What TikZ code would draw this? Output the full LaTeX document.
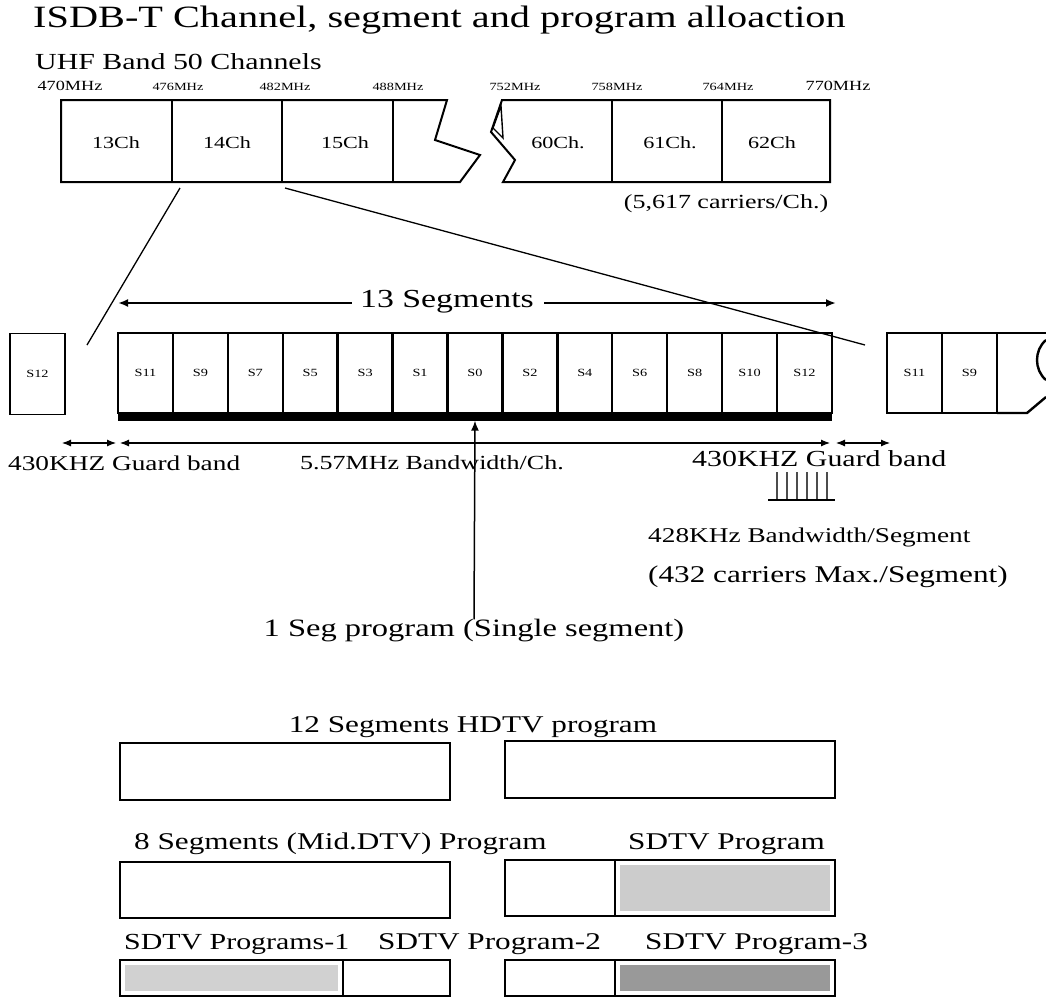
\documentclass[tikz,border=0pt]{standalone}
\usepackage{fontspec}
\setmainfont{Liberation Serif}[FakeStretch=1.3]
\usetikzlibrary{arrows.meta}
\newcommand{\fs}[1]{\fontsize{#1}{#1}\selectfont}
\begin{document}
\begin{tikzpicture}[x=1pt,y=-1pt,
  txt/.style={inner sep=0pt, anchor=west},
  ctxt/.style={inner sep=0pt},
  outl/.style={draw=black, line width=2pt, line join=miter},
  segcell/.style={draw=black, line width=2.4pt, minimum width=54.92pt, minimum height=80pt, inner sep=0pt, font=\fs{11}},
  zline/.style={line width=1.3pt},
  arr/.style={-{Latex[length=10pt,width=8pt]}, line width=1.5pt},
  dim/.style={{Latex[length=9pt,width=7pt]}-{Latex[length=9pt,width=7pt]}, line width=1.1pt},
  pbox/.style={draw=black, line width=2.5pt}
]
\useasboundingbox (0,0) rectangle (1046,998);
\fill[white] (0,0) rectangle (1046,998);

% title and band label
\node[txt, font=\fs{31}] (title) at (33,20) {ISDB-T Channel, segment and program alloaction};
\node[txt, font=\fs{23}] (uhf) at (35,62) {UHF Band 50 Channels};

% frequency labels
\node[ctxt, font=\fs{14}] (f470) at (70,86) {470MHz};
\node[ctxt, font=\fs{11}] (f476) at (178,87) {476MHz};
\node[ctxt, font=\fs{11}] (f482) at (285,87) {482MHz};
\node[ctxt, font=\fs{11}] (f488) at (398,87) {488MHz};
\node[ctxt, font=\fs{11}] (f752) at (515,87) {752MHz};
\node[ctxt, font=\fs{11}] (f758) at (617,87) {758MHz};
\node[ctxt, font=\fs{11}] (f764) at (728,87) {764MHz};
\node[ctxt, font=\fs{14}] (f770) at (838,86) {770MHz};

% channel strip, left piece
\draw[outl] (61,100) -- (447,100) -- (435,140) -- (480,155) -- (460,182) -- (61,182) -- cycle;
\draw[outl] (172,100) -- (172,182);
\draw[outl, line width=2.6pt] (282,100) -- (282,182);
\draw[outl, line width=2.6pt] (393,100) -- (393,182);
% channel strip, right piece
\draw[outl] (502,100) -- (830,100) -- (830,182) -- (503,182) -- (515,160) -- (491,132) -- cycle;
\draw[outl, line width=1.4pt] (501,106) -- (493,128) -- (503,138) -- cycle;
\draw[outl] (612,100) -- (612,182);
\draw[outl] (722,100) -- (722,182);

\node[ctxt, font=\fs{17}] (ch13) at (116,143) {13Ch};
\node[ctxt, font=\fs{17}] (ch14) at (227,143) {14Ch};
\node[ctxt, font=\fs{17}] (ch15) at (345,143) {15Ch};
\node[ctxt, font=\fs{17}] (ch60) at (558,143) {60Ch.};
\node[ctxt, font=\fs{17}] (ch61) at (670,143) {61Ch.};
\node[ctxt, font=\fs{17}] (ch62) at (772,143) {62Ch};
\node[ctxt, font=\fs{20}] (carr) at (726,204) {(5,617 carriers/Ch.)};

% zoom lines
\coordinate (z1a) at (180,188);
\coordinate (z1b) at (87,345);
\coordinate (z2a) at (285,188);
\coordinate (z2b) at (865,345);
\draw[zline] (z1a) -- (z1b);
\draw[zline] (z2a) -- (z2b);

% 13 segments arrow
\node[ctxt, font=\fs{26}] (seg13) at (447,302) {13 Segments};
\coordinate (sL) at (118,303);
\coordinate (sR) at (836,303);
\draw[arr, line width=2pt] ([xshift=-8pt,yshift=-1pt]seg13.west) -- (sL);
\draw[arr, line width=2pt] ([xshift=10pt,yshift=-1pt]seg13.east) -- (sR);

% segments
\foreach \lab [count=\i from 0] in {S11,S9,S7,S5,S3,S1,S0,S2,S4,S6,S8,S10,S12} {
  \node[segcell] (m\i) at ({118+54.92*(\i+0.5)},373) {\lab};
}
\node[fill=black, minimum width=714pt, minimum height=8pt, inner sep=0pt] (bar) at (475,416.5) {};

\node[segcell, line width=1.8pt, minimum width=55pt, minimum height=81pt] (l12) at (37.5,374) {S12};

\node[segcell, minimum width=55pt] (r11) at (914.5,373) {S11};
\node[segcell, minimum width=55pt] (r9) at (969.5,373) {S9};
\draw[outl, line width=2.4pt] (997,333) -- (1046,333);
\draw[outl, line width=2.4pt] (997,413) -- (1027,413) -- (1046,397);
\draw[outl, line width=2.4pt] (1046,340) .. controls (1034,350) and (1034,370) .. (1046,380);

% dimension line
\coordinate (g1) at (62,443);
\coordinate (g2) at (116,443);
\coordinate (g3) at (120,443);
\coordinate (g4) at (830,443);
\coordinate (g5) at (836,443);
\coordinate (g6) at (890,443);
\draw[dim] (g1) -- (g2);
\draw[dim] (g3) -- (g4);
\draw[dim] (g5) -- (g6);

\node[txt, font=\fs{21}] (gl) at (8,463) {430KHZ Guard band};
\node[txt, font=\fs{20}] (bw) at (300,463) {5.57MHz Bandwidth/Ch.};
\node[txt, font=\fs{23}] (gr) at (692,459) {430KHZ Guard band};

% carrier comb
\foreach \k in {0,...,5} { \draw[line width=1.4pt, black!70] ({777+10*\k},472) -- ({777+10*\k},500); }
\draw[line width=1.6pt] (768,500) -- (835,500);

\node[txt, font=\fs{21}] (sbw) at (648,537) {428KHz Bandwidth/Segment};
\node[txt, font=\fs{24}] (cmax) at (648,577) {(432 carriers Max./Segment)};

% one-seg arrow
\node[ctxt, font=\fs{25}] (oneseg) at (474,631) {1 Seg program (Single segment)};
\draw[arr] (oneseg.north) -- (bar.south);

% program rows
\node[ctxt, font=\fs{24}] (hd) at (473,727) {12 Segments HDTV program};
\draw[pbox] (120,743) rectangle (450,800);
\draw[pbox] (505,741) rectangle (835,798);

\node[txt, font=\fs{24}] (mid) at (134,844) {8 Segments (Mid.DTV) Program};
\node[txt, font=\fs{24}] (sdtv) at (628,844) {SDTV Program};
\draw[pbox] (120,862) rectangle (450,918);
\fill[black!20] (620,865) rectangle (830,911);
\draw[pbox] (505,860) rectangle (835,916);
\draw[pbox] (615,860) -- (615,916);

\node[txt, font=\fs{23}] (sd1) at (124,944) {SDTV Programs-1};
\node[txt, font=\fs{24}] (sd2) at (378,944) {SDTV Program-2};
\node[txt, font=\fs{24}] (sd3) at (645,944) {SDTV Program-3};
\fill[black!18] (125,965) rectangle (338,991);
\draw[pbox] (120,960) rectangle (450,996);
\draw[pbox] (343,960) -- (343,996);
\fill[black!40] (620,965) rectangle (830,991);
\draw[pbox] (505,960) rectangle (835,996);
\draw[pbox] (615,960) -- (615,996);
\end{tikzpicture}
\end{document}
